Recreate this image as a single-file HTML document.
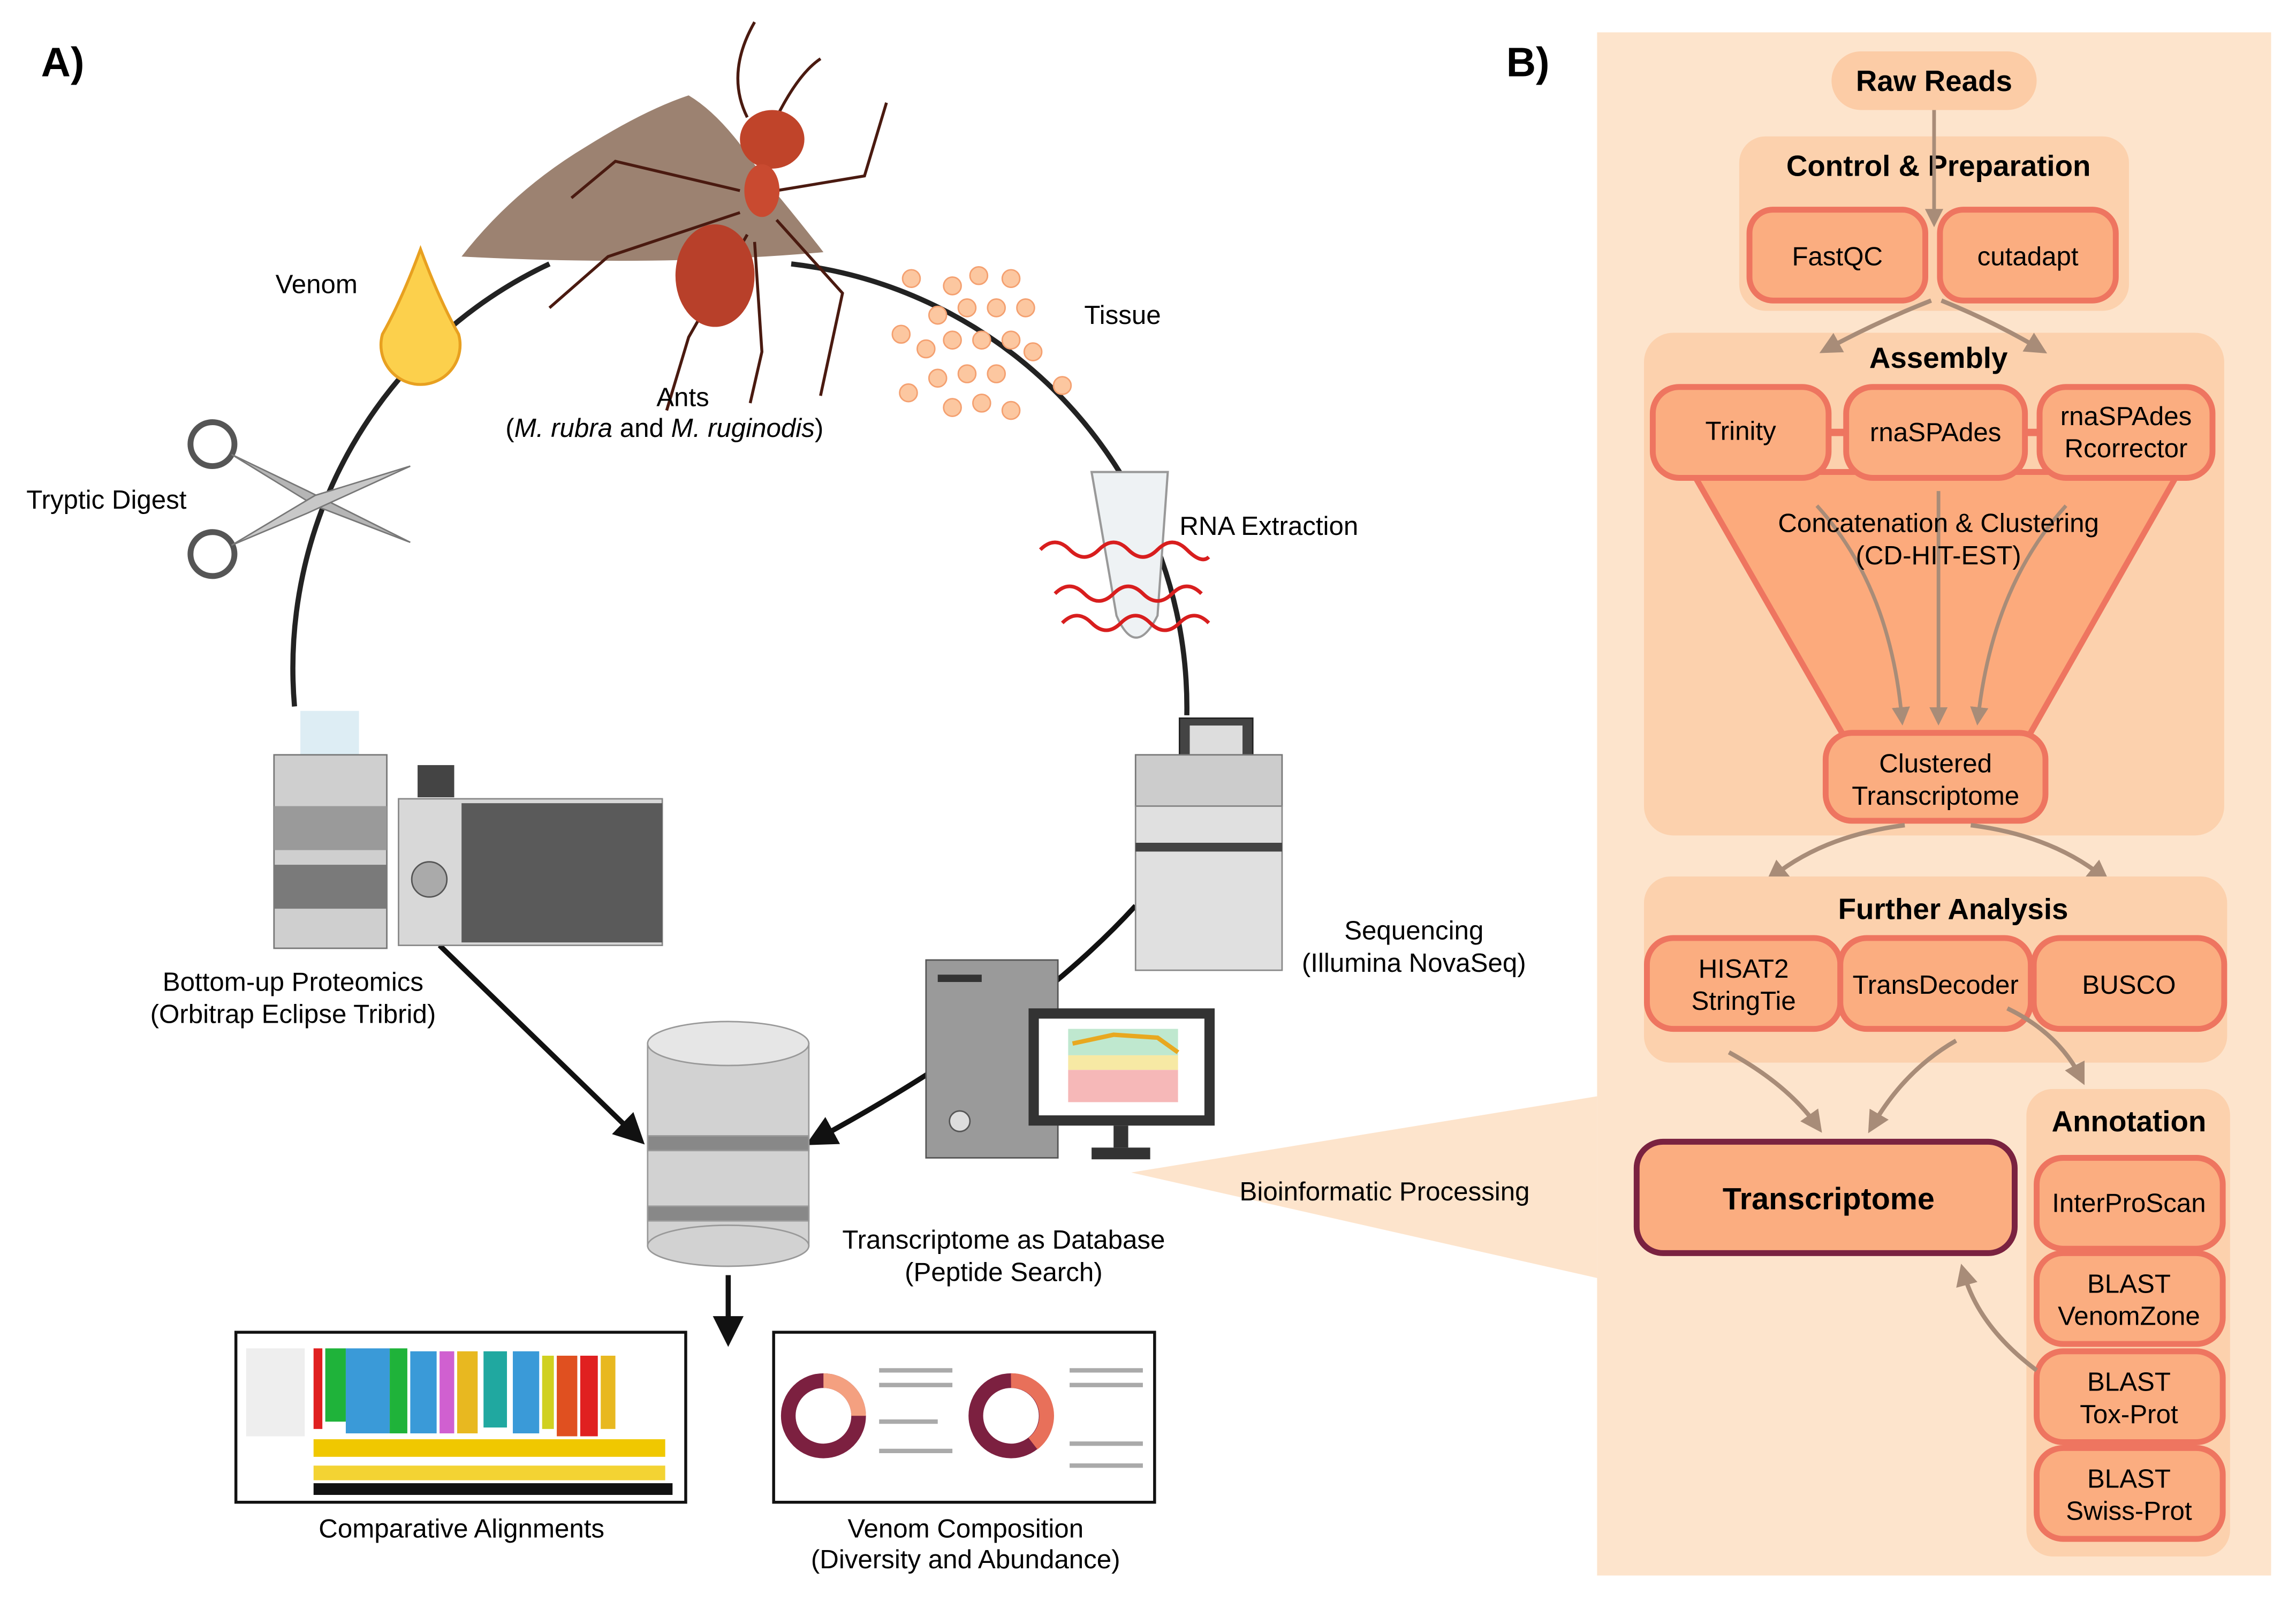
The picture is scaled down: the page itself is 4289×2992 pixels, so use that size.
<!DOCTYPE html>
<html><head><meta charset="utf-8"><style>
html,body{margin:0;padding:0;background:#fff;}
svg{display:block;font-family:"Liberation Sans",sans-serif;}
</style></head><body>
<svg width="4289" height="2992" viewBox="0 0 1567 1093" xmlns="http://www.w3.org/2000/svg">
<defs>
<marker id="ab" markerWidth="6" markerHeight="6" refX="4" refY="3" orient="auto" markerUnits="strokeWidth"><path d="M0,0 L6,3 L0,6 Z" fill="#111"/></marker>
<marker id="ag" markerWidth="5" markerHeight="5" refX="3" refY="2.5" orient="auto" markerUnits="strokeWidth"><path d="M0,0 L5,2.5 L0,5 Z" fill="#a88c78"/></marker>
</defs>
<rect width="1567" height="1093" fill="#fff"/>
<text x="28" y="52" font-size="28" font-weight="bold">A)</text>
<text x="1028" y="52" font-size="28" font-weight="bold">B)</text>

<!-- Panel A circle -->
<path d="M201,482 A305,305 0 0 1 375,180" fill="none" stroke="#222" stroke-width="3.5"/>
<path d="M540,180 A305,305 0 0 1 810,488" fill="none" stroke="#222" stroke-width="3.5"/>
<path d="M775,618 Q700,700 556,778" fill="none" stroke="#111" stroke-width="3.5" marker-end="url(#ab)"/>
<line x1="300" y1="645" x2="435" y2="776" stroke="#111" stroke-width="3.5" marker-end="url(#ab)"/>
<line x1="497" y1="870" x2="497" y2="912" stroke="#111" stroke-width="3.5" marker-end="url(#ab)"/>

<!-- mound -->
<path d="M315,175 Q350,130 400,100 Q440,75 470,65 Q495,80 520,120 Q545,150 562,172 Q450,182 315,175Z" fill="#9c8271"/>
<!-- ant -->
<g stroke="#4a1a10" stroke-width="2" fill="none">
<path d="M510,80 Q495,50 515,15"/><path d="M530,80 Q545,50 560,40"/>
<path d="M505,130 L420,110 L390,135"/><path d="M505,145 L415,175 L375,210"/>
<path d="M510,160 L470,230 L455,280"/><path d="M530,130 L590,120 L605,70"/>
<path d="M530,150 L575,200 L560,270"/><path d="M515,165 L520,240 L512,275"/>
</g>
<ellipse cx="527" cy="95" rx="22" ry="20" fill="#c0442a"/>
<ellipse cx="520" cy="130" rx="12" ry="18" fill="#c94a30"/>
<ellipse cx="488" cy="188" rx="27" ry="35" fill="#b8402a"/>

<!-- venom drop -->
<path d="M287,170 Q300,205 313,228 A27,27 0 1 1 261,228 Q274,205 287,170Z" fill="#fcd04c" stroke="#e8a020" stroke-width="2"/>
<text x="188" y="200" font-size="18">Venom</text>

<!-- tissue -->
<g fill="#fcc7a0" stroke="#f4a070" stroke-width="1">
<circle cx="622" cy="190" r="6"/><circle cx="650" cy="195" r="6"/><circle cx="668" cy="188" r="6"/><circle cx="690" cy="190" r="6"/>
<circle cx="640" cy="215" r="6"/><circle cx="660" cy="210" r="6"/><circle cx="680" cy="210" r="6"/><circle cx="700" cy="210" r="6"/>
<circle cx="632" cy="238" r="6"/><circle cx="650" cy="232" r="6"/><circle cx="670" cy="232" r="6"/><circle cx="690" cy="232" r="6"/><circle cx="705" cy="240" r="6"/>
<circle cx="640" cy="258" r="6"/><circle cx="660" cy="255" r="6"/><circle cx="680" cy="255" r="6"/><circle cx="615" cy="228" r="6"/>
<circle cx="650" cy="278" r="6"/><circle cx="670" cy="275" r="6"/><circle cx="690" cy="280" r="6"/><circle cx="725" cy="263" r="6"/><circle cx="620" cy="268" r="6"/>
</g>
<text x="740" y="221" font-size="18">Tissue</text>
<text x="448" y="277" font-size="18">Ants</text>
<text x="345" y="298" font-size="18">(<tspan font-style="italic">M. rubra</tspan> and <tspan font-style="italic">M. ruginodis</tspan>)</text>

<!-- tube -->
<path d="M745,322 L797,322 L790,420 Q775,450 762,420 Z" fill="#eef2f4" stroke="#999" stroke-width="1.5"/>
<g fill="none" stroke="#d81e1e" stroke-width="2.5">
<path d="M710,375 q10,-10 20,0 q10,10 20,0 q10,-10 20,0 q10,10 20,0 q10,-10 20,0 q10,10 15,5"/>
<path d="M720,405 q10,-10 20,0 q10,10 20,0 q10,-10 20,0 q10,10 20,0 q10,-10 20,0"/>
<path d="M725,425 q10,-10 20,0 q10,10 20,0 q10,-10 20,0 q10,10 20,0 q10,-10 20,0"/>
</g>
<text x="805" y="365" font-size="18">RNA Extraction</text>

<!-- scissors -->
<g stroke="#555" stroke-width="4" fill="none">
<circle cx="145" cy="303" r="15"/><circle cx="145" cy="378" r="15"/>
</g>
<path d="M158,310 L215,345 L280,370 L210,335 Z" fill="#b5b5b5" stroke="#777"/>
<path d="M158,372 L215,338 L280,318 L210,350 Z" fill="#c8c8c8" stroke="#777"/>
<text x="18" y="347" font-size="18">Tryptic Digest</text>

<!-- proteomics -->
<rect x="205" y="485" width="40" height="30" fill="#cfe6ef" opacity="0.7"/>
<rect x="187" y="515" width="77" height="132" fill="#cfcfcf" stroke="#777"/>
<rect x="187" y="550" width="77" height="30" fill="#9a9a9a"/>
<rect x="187" y="590" width="77" height="30" fill="#7a7a7a"/>
<rect x="272" y="545" width="180" height="100" fill="#d8d8d8" stroke="#888"/>
<rect x="315" y="548" width="137" height="95" fill="#5a5a5a"/>
<rect x="285" y="522" width="25" height="22" fill="#444"/>
<circle cx="293" cy="600" r="12" fill="#aaa" stroke="#555"/>
<text x="200" y="676" font-size="18" text-anchor="middle">Bottom-up Proteomics</text>
<text x="200" y="698" font-size="18" text-anchor="middle">(Orbitrap Eclipse Tribrid)</text>

<!-- sequencer -->
<rect x="805" y="490" width="50" height="38" fill="#444" stroke="#222"/>
<rect x="812" y="495" width="36" height="28" fill="#ddd"/>
<rect x="775" y="515" width="100" height="35" fill="#ccc" stroke="#777"/>
<rect x="775" y="550" width="100" height="112" fill="#e0e0e0" stroke="#888"/>
<rect x="775" y="575" width="100" height="6" fill="#444"/>
<text x="965" y="641" font-size="18" text-anchor="middle">Sequencing</text>
<text x="965" y="663" font-size="18" text-anchor="middle">(Illumina NovaSeq)</text>

<!-- computer -->
<rect x="632" y="655" width="90" height="135" fill="#9a9a9a" stroke="#555"/>
<rect x="640" y="665" width="30" height="5" fill="#333"/>
<circle cx="655" cy="765" r="7" fill="#ddd" stroke="#555"/>
<rect x="702" y="688" width="127" height="80" fill="#333"/>
<rect x="709" y="695" width="113" height="66" fill="#fff"/>
<rect x="729" y="702" width="75" height="18" fill="#bfe8cf"/>
<rect x="729" y="720" width="75" height="10" fill="#f7e9a4"/>
<rect x="729" y="730" width="75" height="22" fill="#f6b8b8"/>
<path d="M732,712 L760,706 L790,708 L804,718" stroke="#e8a820" stroke-width="3" fill="none"/>
<rect x="760" y="768" width="10" height="15" fill="#333"/><rect x="745" y="783" width="40" height="8" fill="#333"/>

<!-- database -->
<g stroke="#999" stroke-width="1">
<rect x="442" y="712" width="110" height="138" fill="#d2d2d2"/>
<ellipse cx="497" cy="850" rx="55" ry="14" fill="#d2d2d2"/>
<rect x="442" y="775" width="110" height="10" fill="#888"/>
<rect x="442" y="823" width="110" height="10" fill="#888"/>
<ellipse cx="497" cy="712" rx="55" ry="15" fill="#e6e6e6"/>
</g>
<text x="685" y="852" font-size="18" text-anchor="middle">Transcriptome as Database</text>
<text x="685" y="874" font-size="18" text-anchor="middle">(Peptide Search)</text>

<!-- alignment box -->
<rect x="161" y="909" width="307" height="116" fill="#fff" stroke="#111" stroke-width="2"/>
<g>
<rect x="214" y="920" width="6" height="55" fill="#e02020"/><rect x="222" y="920" width="14" height="50" fill="#1fb33a"/>
<rect x="236" y="920" width="30" height="58" fill="#3a9ad8"/><rect x="266" y="920" width="12" height="58" fill="#1fb33a"/>
<rect x="280" y="922" width="18" height="56" fill="#3a9ad8"/><rect x="300" y="922" width="10" height="56" fill="#d060d0"/>
<rect x="312" y="922" width="14" height="56" fill="#e8b820"/><rect x="330" y="922" width="16" height="52" fill="#20a8a0"/>
<rect x="350" y="922" width="18" height="56" fill="#3a9ad8"/><rect x="370" y="925" width="8" height="50" fill="#d0d020"/>
<rect x="380" y="925" width="14" height="55" fill="#e05020"/><rect x="396" y="925" width="12" height="55" fill="#e02020"/>
<rect x="410" y="925" width="10" height="50" fill="#e8b820"/><rect x="168" y="920" width="40" height="60" fill="#ddd" opacity="0.5"/>
<rect x="214" y="982" width="240" height="12" fill="#f0c800"/><rect x="214" y="1000" width="240" height="10" fill="#f0c800" opacity="0.8"/>
<rect x="214" y="1012" width="245" height="8" fill="#111"/>
</g>
<text x="315" y="1049" font-size="18" text-anchor="middle">Comparative Alignments</text>

<!-- venom composition box -->
<rect x="528" y="909" width="260" height="116" fill="#fff" stroke="#111" stroke-width="2"/>
<circle cx="562" cy="966" r="24" fill="none" stroke="#7c2040" stroke-width="10"/>
<path d="M562,942 A24,24 0 0 1 586,966" fill="none" stroke="#f4a080" stroke-width="10"/>
<circle cx="690" cy="966" r="24" fill="none" stroke="#7c2040" stroke-width="10"/>
<path d="M690,942 A24,24 0 0 1 705,985" fill="none" stroke="#e8705a" stroke-width="10"/>
<g stroke="#aaa" stroke-width="3"><line x1="600" y1="935" x2="650" y2="935"/><line x1="600" y1="945" x2="650" y2="945"/><line x1="600" y1="970" x2="640" y2="970"/><line x1="600" y1="990" x2="650" y2="990"/><line x1="730" y1="935" x2="780" y2="935"/><line x1="730" y1="945" x2="780" y2="945"/><line x1="730" y1="985" x2="780" y2="985"/><line x1="730" y1="1000" x2="780" y2="1000"/></g>
<text x="659" y="1049" font-size="18" text-anchor="middle">Venom Composition</text>
<text x="659" y="1070" font-size="18" text-anchor="middle">(Diversity and Abundance)</text>

<!-- Panel B -->
<rect x="1090" y="22" width="460" height="1053" fill="#fde4cc"/>
<path d="M772,800 L1090,748 L1090,872 Z" fill="#fde4cc"/>
<text x="945" y="819" font-size="18" text-anchor="middle">Bioinformatic Processing</text>

<rect x="1250" y="35" width="140" height="40" rx="20" fill="#fccca6"/>
<text x="1320" y="62" font-size="20" font-weight="bold" text-anchor="middle">Raw Reads</text>

<rect x="1187" y="93" width="266" height="119" rx="18" fill="#fcd1ad"/>
<text x="1323" y="120" font-size="20" font-weight="bold" text-anchor="middle">Control &amp; Preparation</text>
<line x1="1320" y1="75" x2="1320" y2="150" stroke="#a88c78" stroke-width="2.5" marker-end="url(#ag)"/>

<g fill="#fbad80" stroke="#ee7560" stroke-width="4">
<rect x="1194" y="143" width="120" height="62" rx="16"/>
<rect x="1324" y="143" width="120" height="62" rx="16"/>
</g>
<text x="1254" y="181" font-size="18" text-anchor="middle">FastQC</text>
<text x="1384" y="181" font-size="18" text-anchor="middle">cutadapt</text>

<rect x="1122" y="227" width="396" height="343" rx="20" fill="#fcd1ad"/>
<path d="M1318,205 Q1280,220 1247,238" fill="none" stroke="#a88c78" stroke-width="3" marker-end="url(#ag)"/>
<path d="M1325,205 Q1362,220 1392,238" fill="none" stroke="#a88c78" stroke-width="3" marker-end="url(#ag)"/>
<text x="1323" y="251" font-size="20" font-weight="bold" text-anchor="middle">Assembly</text>

<path d="M1155,322 L1487,322 L1383,505 L1260,505 Z" fill="#fcaa7c" stroke="#ee7560" stroke-width="4" stroke-linejoin="round"/>
<line x1="1245" y1="295" x2="1264" y2="295" stroke="#ee7560" stroke-width="5"/>
<line x1="1380" y1="295" x2="1394" y2="295" stroke="#ee7560" stroke-width="5"/>
<g fill="#fbad80" stroke="#ee7560" stroke-width="4">
<rect x="1128" y="264" width="120" height="62" rx="18"/>
<rect x="1260" y="264" width="122" height="62" rx="18"/>
<rect x="1392" y="264" width="118" height="62" rx="18"/>
</g>
<text x="1188" y="300" font-size="18" text-anchor="middle">Trinity</text>
<text x="1321" y="301" font-size="18" text-anchor="middle">rnaSPAdes</text>
<text x="1451" y="290" font-size="18" text-anchor="middle">rnaSPAdes</text>
<text x="1451" y="312" font-size="18" text-anchor="middle">Rcorrector</text>
<g fill="none" stroke="#a88c78" stroke-width="2.5">
<path d="M1240,345 Q1290,400 1298,490" marker-end="url(#ag)"/>
<path d="M1323,335 L1323,490" marker-end="url(#ag)"/>
<path d="M1410,345 Q1360,400 1350,490" marker-end="url(#ag)"/>
</g>
<text x="1323" y="363" font-size="18" text-anchor="middle">Concatenation &amp; Clustering</text>
<text x="1323" y="385" font-size="18" text-anchor="middle">(CD-HIT-EST)</text>
<rect x="1246" y="500" width="150" height="60" rx="18" fill="#fbad80" stroke="#ee7560" stroke-width="4"/>
<text x="1321" y="527" font-size="18" text-anchor="middle">Clustered</text>
<text x="1321" y="549" font-size="18" text-anchor="middle">Transcriptome</text>

<path d="M1300,563 Q1245,570 1210,598" fill="none" stroke="#a88c78" stroke-width="3" marker-end="url(#ag)"/>
<path d="M1345,563 Q1400,570 1435,598" fill="none" stroke="#a88c78" stroke-width="3" marker-end="url(#ag)"/>

<rect x="1122" y="598" width="398" height="127" rx="18" fill="#fcd1ad"/>
<text x="1333" y="627" font-size="20" font-weight="bold" text-anchor="middle">Further Analysis</text>
<g fill="#fbad80" stroke="#ee7560" stroke-width="4">
<rect x="1124" y="640" width="132" height="62" rx="18"/>
<rect x="1256" y="640" width="130" height="62" rx="18"/>
<rect x="1388" y="640" width="130" height="62" rx="18"/>
</g>
<text x="1190" y="667" font-size="18" text-anchor="middle">HISAT2</text>
<text x="1190" y="689" font-size="18" text-anchor="middle">StringTie</text>
<text x="1321" y="678" font-size="18" text-anchor="middle">TransDecoder</text>
<text x="1453" y="678" font-size="18" text-anchor="middle">BUSCO</text>

<rect x="1383" y="743" width="139" height="319" rx="18" fill="#fcd1ad"/>
<text x="1453" y="772" font-size="20" font-weight="bold" text-anchor="middle">Annotation</text>
<g fill="#fbad80" stroke="#ee7560" stroke-width="4">
<rect x="1390" y="790" width="127" height="62" rx="18"/>
<rect x="1390" y="855" width="127" height="62" rx="18"/>
<rect x="1390" y="922" width="127" height="62" rx="18"/>
<rect x="1390" y="988" width="127" height="62" rx="18"/>
</g>
<text x="1453" y="827" font-size="18" text-anchor="middle">InterProScan</text>
<text x="1453" y="882" font-size="18" text-anchor="middle">BLAST</text>
<text x="1453" y="904" font-size="18" text-anchor="middle">VenomZone</text>
<text x="1453" y="949" font-size="18" text-anchor="middle">BLAST</text>
<text x="1453" y="971" font-size="18" text-anchor="middle">Tox-Prot</text>
<text x="1453" y="1015" font-size="18" text-anchor="middle">BLAST</text>
<text x="1453" y="1037" font-size="18" text-anchor="middle">Swiss-Prot</text>

<g fill="none" stroke="#a88c78" stroke-width="3">
<path d="M1180,718 Q1220,740 1240,768" marker-end="url(#ag)"/>
<path d="M1335,710 Q1300,730 1278,768" marker-end="url(#ag)"/>
<path d="M1370,688 Q1405,705 1420,735" marker-end="url(#ag)"/>
<path d="M1390,935 Q1350,905 1340,868" marker-end="url(#ag)"/>
</g>
<rect x="1117" y="779" width="258" height="76" rx="18" fill="#fbad80" stroke="#7a2240" stroke-width="4"/>
<text x="1248" y="825" font-size="21" font-weight="bold" text-anchor="middle">Transcriptome</text>
</svg>
</body></html>
